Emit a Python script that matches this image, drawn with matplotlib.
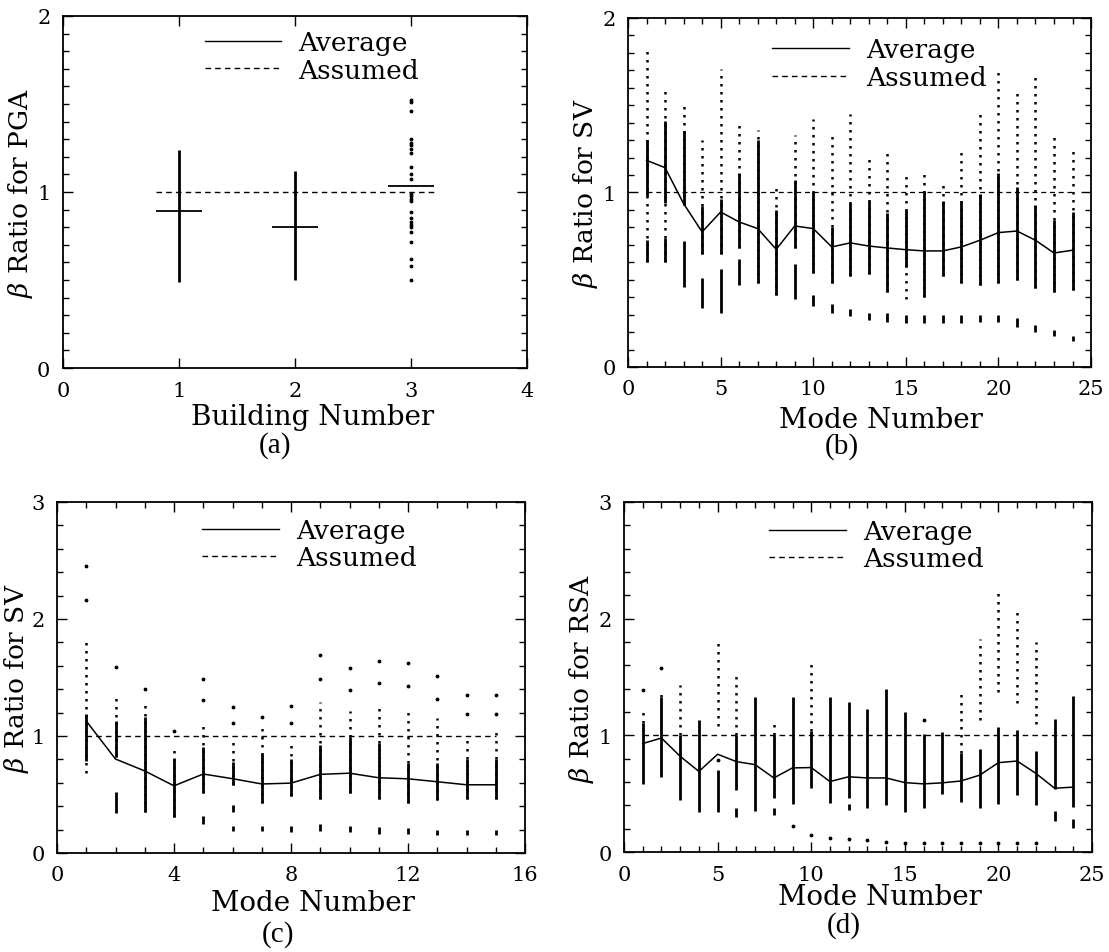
import numpy as np
import matplotlib
matplotlib.use('Agg')
import matplotlib.pyplot as plt
from matplotlib.lines import Line2D
from matplotlib.ticker import MultipleLocator

nan = np.nan

# ---- (a) PGA, by building ----
bld = [1, 2, 3]
bld_avg = [0.89, 0.80, 1.035]
bld_lo = [0.49, 0.50, nan]
bld_hi = [1.24, 1.12, nan]
bld3_pts = [1.52, 1.51, 1.46, 1.30, 1.28, 1.265, 1.245, 1.22, 1.14, 1.10, 1.075,
            0.99, 0.98, 0.96, 0.95, 0.885, 0.85, 0.83, 0.81, 0.80, 0.77, 0.715,
            0.62, 0.58, 0.50]

# ---- (b) SV, building modes 1-24 ----
mb = list(range(1, 25))
b_avg = [1.184, 1.142, 0.936, 0.774, 0.888, 0.831, 0.793, 0.674, 0.808, 0.793,
         0.688, 0.711, 0.693, 0.682, 0.672, 0.665, 0.665, 0.688, 0.726, 0.770,
         0.779, 0.726, 0.653, 0.669]
b_sp_lo = [0.60, 0.60, 0.93, 0.65, 0.65, 0.68, 0.48, 0.41, 0.68, 0.54, 0.48, 0.52,
           0.53, 0.43, 0.39, 0.40, 0.52, 0.48, 0.47, 0.48, 0.50, 0.45, 0.43, 0.44]
b_sp_hi = [1.82, 1.60, 1.51, 1.30, 1.71, 1.41, 1.36, 1.05, 1.33, 1.42, 1.35, 1.45,
           1.20, 1.23, 1.11, 1.13, 1.06, 1.25, 1.46, 1.69, 1.59, 1.69, 1.33, 1.26]
b_d_lo = [0.98, 0.94, 0.93, 0.65, 0.65, 0.68, 0.48, 0.41, 0.68, 0.54, 0.48, 0.52,
          0.53, 0.43, 0.57, 0.40, 0.52, 0.48, 0.47, 0.48, 0.50, 0.45, 0.43, 0.44]
b_d_hi = [1.30, 1.41, 1.35, 0.92, 0.96, 1.11, 1.30, 0.90, 1.07, 1.00, 0.80, 0.94,
          0.95, 0.88, 0.90, 1.01, 0.95, 0.95, 0.99, 1.11, 1.03, 0.93, 0.84, 0.89]
b_low_lo = [0.60, 0.60, 0.46, 0.34, 0.31, 0.47, nan, nan, 0.39, 0.35, 0.31, 0.29,
            0.27, 0.26, 0.25, 0.25, 0.25, 0.25, 0.26, 0.26, 0.23, 0.20, 0.18, 0.15]
b_low_hi = [0.73, 0.74, 0.72, 0.51, 0.56, 0.62, nan, nan, 0.59, 0.41, 0.36, 0.33,
            0.31, 0.31, 0.30, 0.30, 0.30, 0.30, 0.30, 0.30, 0.28, 0.24, 0.21, 0.18]

# ---- (c) SV, building modes 1-15 ----
mc = list(range(1, 16))
c_avg = [1.128, 0.803, 0.701, 0.574, 0.675, 0.635, 0.590, 0.597, 0.672, 0.682,
         0.643, 0.634, 0.609, 0.583, 0.583]
c_sp_lo = [0.68, 0.82, 0.35, 0.31, 0.51, 0.58, 0.43, 0.49, 0.46, 0.51, 0.46, 0.43,
           0.45, 0.46, 0.46]
c_sp_hi = [1.85, 1.37, 1.28, 0.92, 1.13, 0.96, 1.11, 0.96, 1.29, 1.21, 1.25, 1.23,
           1.15, 1.00, 1.03]
c_d_lo = [0.79, 0.82, 0.35, 0.31, 0.51, 0.58, 0.43, 0.49, 0.46, 0.51, 0.46, 0.43,
          0.45, 0.46, 0.46]
c_d_hi = [1.19, 1.13, 1.16, 0.81, 0.91, 0.78, 0.85, 0.80, 0.92, 0.99, 0.94, 0.77,
          0.77, 0.80, 0.80]
c_low_m = [2, 5, 6, 6, 7, 8, 9, 10, 11, 12, 13, 14, 15]
c_low_lo = [0.34, 0.25, 0.35, 0.19, 0.19, 0.18, 0.19, 0.18, 0.16, 0.16, 0.15, 0.15, 0.15]
c_low_hi = [0.52, 0.32, 0.41, 0.23, 0.23, 0.23, 0.25, 0.23, 0.22, 0.21, 0.20, 0.20, 0.20]
c_out_m = [1, 1, 2, 3, 4, 5, 5, 6, 6, 7, 8, 8, 9, 9, 10, 10, 11, 11, 12, 12,
           13, 13, 14, 14, 15, 15]
c_out_v = [2.45, 2.16, 1.59, 1.40, 1.04, 1.49, 1.31, 1.25, 1.11, 1.16, 1.26, 1.11,
           1.69, 1.49, 1.58, 1.39, 1.64, 1.45, 1.62, 1.43, 1.51, 1.32, 1.35, 1.19,
           1.35, 1.19]

# ---- (d) RSA, building modes 1-24 ----
md = list(range(1, 25))
d_avg = [0.930, 0.977, 0.820, 0.691, 0.838, 0.775, 0.749, 0.635, 0.721, 0.724,
         0.604, 0.645, 0.635, 0.635, 0.595, 0.584, 0.593, 0.609, 0.659, 0.766,
         0.780, 0.674, 0.547, 0.556]
d_sp_lo = [1.11, 1.33, 1.00, nan, 1.08, 1.00, nan, 1.00, nan, 1.04, nan, nan,
           nan, nan, nan, nan, nan, 0.85, 1.13, 1.37, 1.28, 1.10, nan, nan]
d_sp_hi = [1.21, 1.38, 1.43, nan, 1.82, 1.53, nan, 1.13, nan, 1.65, nan, nan,
           nan, nan, nan, nan, nan, 1.39, 1.83, 2.24, 2.08, 1.80, nan, nan]
d_d_lo = [0.58, 0.64, 0.45, 0.34, 0.34, 0.53, 0.35, 0.46, 0.41, 0.55, 0.42, 0.46,
          0.38, 0.40, 0.34, 0.38, 0.50, 0.43, 0.38, 0.41, 0.49, 0.40, 0.54, 0.39]
d_d_hi = [1.11, 1.33, 1.00, 1.13, 0.70, 1.00, 1.33, 1.00, 1.33, 1.04, 1.33, 1.29,
          1.23, 1.40, 1.20, 1.01, 1.03, 0.85, 0.88, 1.07, 1.05, 0.87, 1.14, 1.34]
d_low_m = [6, 8, 12, 23, 24]
d_low_lo = [0.30, 0.32, 0.36, 0.27, 0.21]
d_low_hi = [0.38, 0.38, 0.41, 0.35, 0.28]
d_out_m = [1, 2, 5, 9, 10, 11, 12, 13, 14, 15, 16, 16, 17, 18, 19, 20, 21, 22]
d_out_v = [1.39, 1.58, 0.79, 0.22, 0.15, 0.12, 0.11, 0.10, 0.09, 0.08, 1.13, 0.075,
           0.075, 0.075, 0.075, 0.075, 0.075, 0.075]

plt.rcParams['font.family'] = ['DejaVu Serif']
plt.rcParams['mathtext.fontset'] = 'dejavuserif'

fig = plt.figure(figsize=(11.09, 9.53), dpi=100)
ax_a = fig.add_axes([0.0568, 0.6128, 0.4184, 0.3694])
ax_b = fig.add_axes([0.5663, 0.6139, 0.4175, 0.3662])
ax_c = fig.add_axes([0.0514, 0.1039, 0.4220, 0.3683])
ax_d = fig.add_axes([0.5627, 0.1049, 0.4220, 0.3673])

DOTS = (0, (1, 2.2))
DASH = (0, (4, 3))


def columns(ax, m, sp_lo, sp_hi, d_lo, d_hi):
    # sparse part of each column dotted, dense part solid
    ax.vlines(m, sp_lo, sp_hi, colors='k', linestyles=DOTS, lw=1.8)
    ax.vlines(m, d_lo, d_hi, colors='k', lw=2.0)


def style(ax, xlim, ylim, xmaj, xmin, ymaj, ymin, ylabel, xlabel, ylab_x, xlab_xy):
    ax.set_xlim(*xlim)
    ax.set_ylim(*ylim)
    ax.xaxis.set_major_locator(MultipleLocator(xmaj))
    if xmin:
        ax.xaxis.set_minor_locator(MultipleLocator(xmin))
    ax.yaxis.set_major_locator(MultipleLocator(ymaj))
    ax.yaxis.set_minor_locator(MultipleLocator(ymin))
    ax.tick_params(which='both', direction='in', top=True, right=True,
                   labelsize=15, pad=9, width=1.0)
    ax.tick_params(which='major', length=7)
    ax.tick_params(which='minor', length=4.5)
    for s in ax.spines.values():
        s.set_linewidth(1.3)
    ax.set_ylabel(ylabel, fontsize=19)
    ax.yaxis.set_label_coords(ylab_x, 0.5)
    ax.set_xlabel(xlabel, fontsize=20)
    ax.xaxis.set_label_coords(*xlab_xy)


def legend(ax, x, y):
    h = [Line2D([], [], color='k', lw=1.0),
         Line2D([], [], color='k', lw=1.0, ls=DASH)]
    ax.legend(h, ['Average', 'Assumed'], loc='upper left', bbox_to_anchor=(x, y),
              frameon=False, fontsize=19, handlelength=2.9, handletextpad=0.65,
              labelspacing=0.1, borderpad=0, borderaxespad=0)


# (a)
ax_a.vlines(bld, bld_lo, bld_hi, colors='k', lw=2.0)
ax_a.plot([3] * len(bld3_pts), bld3_pts, 'k.', ms=3.5)
ax_a.hlines(bld_avg, np.array(bld) - 0.2, np.array(bld) + 0.2, colors='k', lw=1.3)
ax_a.plot([0.8, 3.2], [1.0, 1.0], color='k', lw=1.0, ls=DASH)
style(ax_a, (0, 4), (0, 2), 1, None, 1, 0.1, r'$\beta$ Ratio for PGA',
      'Building Number', -0.06, (0.537, -0.10))
legend(ax_a, 0.305, 0.96)

# (b)
columns(ax_b, mb, b_sp_lo, b_sp_hi, b_d_lo, b_d_hi)
ax_b.vlines(mb, b_low_lo, b_low_hi, colors='k', lw=2.0)
ax_b.plot(mb, b_avg, color='k', lw=1.1)
ax_b.plot([mb[0], mb[-1]], [1.0, 1.0], color='k', lw=0.9, ls=DASH)
style(ax_b, (0, 25), (0, 2), 5, 1, 1, 0.1, r'$\beta$ Ratio for SV',
      'Mode Number', -0.06, (0.546, -0.112))
legend(ax_b, 0.312, 0.945)

# (c)
columns(ax_c, mc, c_sp_lo, c_sp_hi, c_d_lo, c_d_hi)
ax_c.vlines(c_low_m, c_low_lo, c_low_hi, colors='k', lw=2.0)
ax_c.plot(c_out_m, c_out_v, 'k.', ms=3.5)
ax_c.plot(mc, c_avg, color='k', lw=1.1)
ax_c.plot([mc[0], mc[-1]], [1.0, 1.0], color='k', lw=1.0, ls=DASH)
style(ax_c, (0, 16), (0, 3), 4, 1, 1, 0.2, r'$\beta$ Ratio for SV',
      'Mode Number', -0.056, (0.547, -0.103))
legend(ax_c, 0.31, 0.955)

# (d)
columns(ax_d, md, d_sp_lo, d_sp_hi, d_d_lo, d_d_hi)
ax_d.vlines(d_low_m, d_low_lo, d_low_hi, colors='k', lw=2.0)
ax_d.plot(d_out_m, d_out_v, 'k.', ms=3.5)
ax_d.plot(md, d_avg, color='k', lw=1.1)
ax_d.plot([md[0], md[-1]], [1.0, 1.0], color='k', lw=1.0, ls=DASH)
style(ax_d, (0, 25), (0, 3), 5, 1, 1, 0.2, r'$\beta$ Ratio for RSA',
      'Mode Number', -0.059, (0.547, -0.088))
legend(ax_d, 0.31, 0.952)

cap = dict(fontsize=21, family=['Liberation Serif'], ha='center', va='center')
fig.text(0.248, 0.533, '(a)', **cap)
fig.text(0.759, 0.531, '(b)', **cap)
fig.text(0.251, 0.019, '(c)', **cap)
fig.text(0.761, 0.029, '(d)', **cap)

fig.savefig('out.png', dpi=100)
